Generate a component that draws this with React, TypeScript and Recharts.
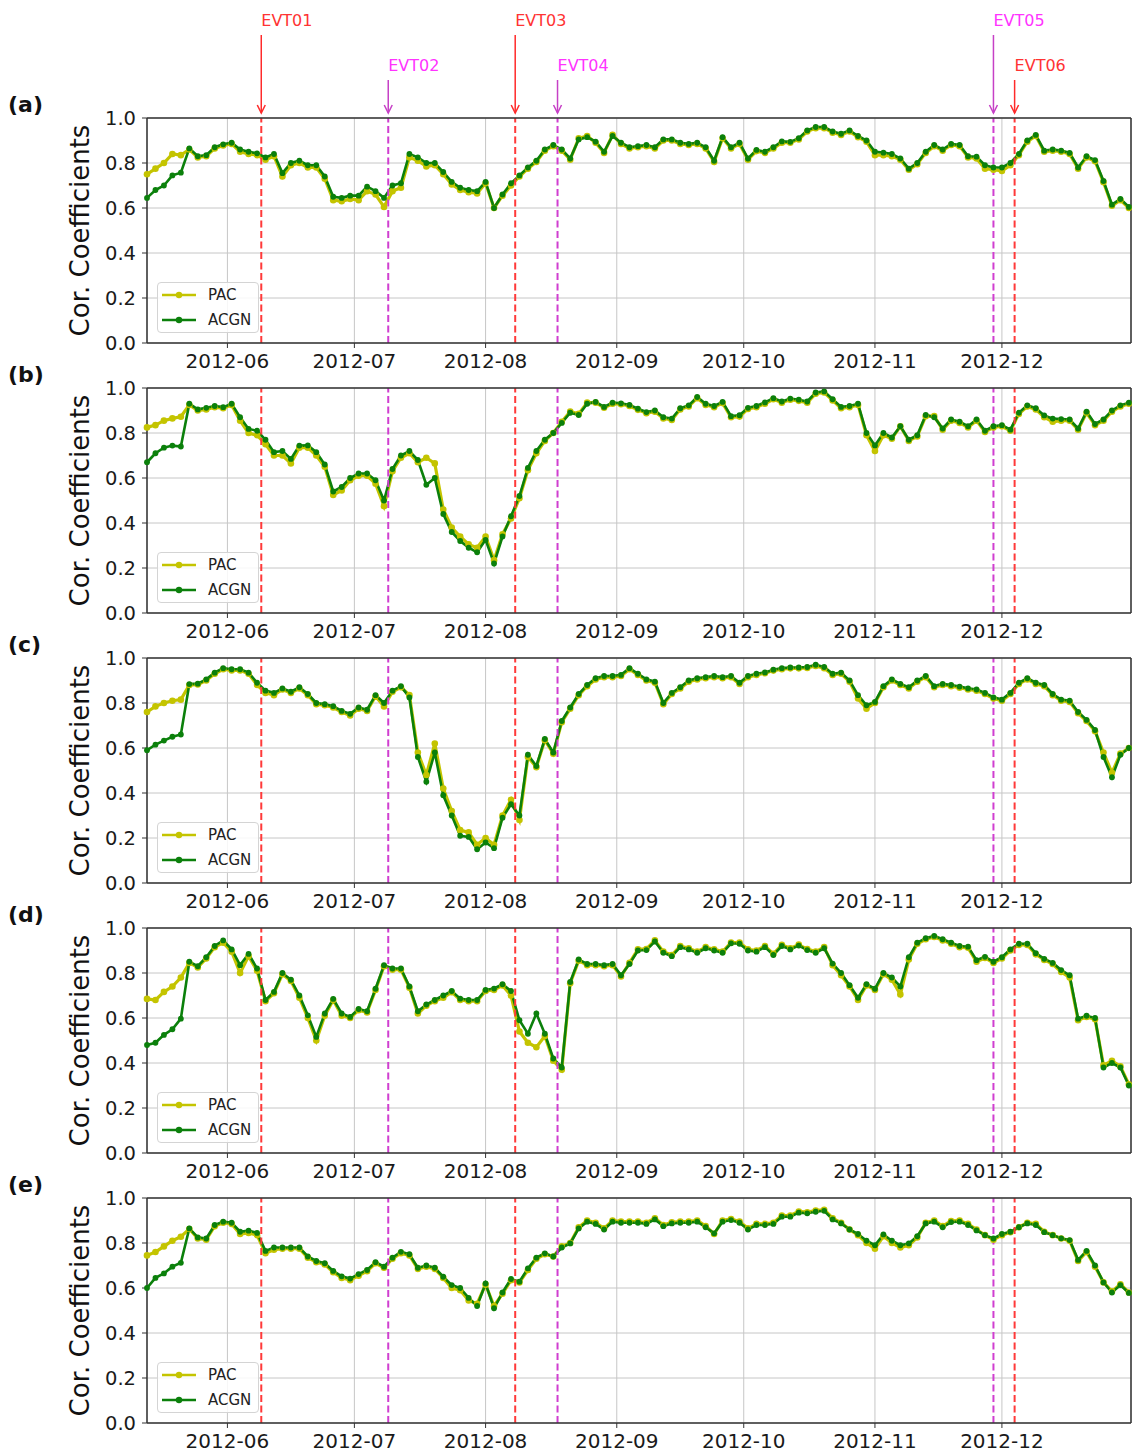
import { LineChart, Line, XAxis, YAxis, CartesianGrid, ReferenceLine, Legend, Label } from 'recharts'

const FONT = 'DejaVu Sans, sans-serif'
const PAC_COLOR = '#c4c400'
const ACGN_COLOR = '#0b800b'

// day offsets from 2012-05-13 (one sample every second day)
const days = [
  0, 2, 4, 6, 8, 10, 12, 14, 16, 18,
  20, 22, 24, 26, 28, 30, 32, 34, 36, 38,
  40, 42, 44, 46, 48, 50, 52, 54, 56, 58,
  60, 62, 64, 66, 68, 70, 72, 74, 76, 78,
  80, 82, 84, 86, 88, 90, 92, 94, 96, 98,
  100, 102, 104, 106, 108, 110, 112, 114, 116, 118,
  120, 122, 124, 126, 128, 130, 132, 134, 136, 138,
  140, 142, 144, 146, 148, 150, 152, 154, 156, 158,
  160, 162, 164, 166, 168, 170, 172, 174, 176, 178,
  180, 182, 184, 186, 188, 190, 192, 194, 196, 198,
  200, 202, 204, 206, 208, 210, 212, 214, 216, 218,
  220, 222, 224, 226, 228, 230, 232,
]

const monthTicks = [19, 49, 80, 111, 141, 172, 202]
const monthLabels = ['2012-06', '2012-07', '2012-08', '2012-09', '2012-10', '2012-11', '2012-12']
const yTicks = [0, 0.2, 0.4, 0.6, 0.8, 1.0]

const eventNames = ['EVT01', 'EVT02', 'EVT03', 'EVT04', 'EVT05', 'EVT06']
const eventDays = [27, 57, 87, 97, 200, 205]
const eventKinds = ['r', 'm', 'r', 'm', 'm', 'r']
const eventTall = [true, false, true, false, true, false]

const acgnA = [
  0.645, 0.68, 0.70, 0.745, 0.757, 0.865, 0.83, 0.835, 0.87, 0.883,
  0.89, 0.86, 0.85, 0.843, 0.825, 0.84, 0.755, 0.80, 0.81, 0.79,
  0.79, 0.74, 0.65, 0.645, 0.655, 0.655, 0.695, 0.675, 0.645, 0.70,
  0.71, 0.84, 0.825, 0.80, 0.80, 0.76, 0.716, 0.69, 0.68, 0.675,
  0.716, 0.60, 0.66, 0.71, 0.745, 0.78, 0.81, 0.86, 0.88, 0.86,
  0.82, 0.905, 0.915, 0.895, 0.85, 0.92, 0.89, 0.87, 0.875, 0.88,
  0.87, 0.905, 0.905, 0.89, 0.885, 0.89, 0.87, 0.81, 0.915, 0.87,
  0.89, 0.82, 0.858, 0.85, 0.87, 0.896, 0.894, 0.91, 0.945, 0.96,
  0.96, 0.94, 0.93, 0.945, 0.92, 0.90, 0.85, 0.846, 0.84, 0.82,
  0.775, 0.80, 0.85, 0.88, 0.86, 0.885, 0.88, 0.83, 0.828, 0.79,
  0.78, 0.78, 0.80, 0.84, 0.90, 0.925, 0.855, 0.86, 0.855, 0.845,
  0.78, 0.83, 0.813, 0.72, 0.615, 0.64, 0.605,
]
const pacA = [
  0.75, 0.775, 0.80, 0.84, 0.835, 0.86, 0.825, 0.83, 0.865, 0.878,
  0.885, 0.85, 0.84, 0.835, 0.815, 0.83, 0.74, 0.79, 0.80, 0.78,
  0.78, 0.73, 0.635, 0.63, 0.64, 0.635, 0.675, 0.66, 0.605, 0.675,
  0.69, 0.825, 0.81, 0.785, 0.79, 0.75, 0.705, 0.68, 0.67, 0.665,
  0.71, 0.60, 0.655, 0.70, 0.74, 0.775, 0.805, 0.855, 0.875, 0.855,
  0.815, 0.91, 0.92, 0.89, 0.845, 0.925, 0.885, 0.865, 0.87, 0.875,
  0.865, 0.90, 0.90, 0.885, 0.88, 0.885, 0.865, 0.805, 0.91, 0.865,
  0.885, 0.815, 0.853, 0.845, 0.865, 0.89, 0.89, 0.905, 0.94, 0.955,
  0.955, 0.935, 0.925, 0.94, 0.915, 0.895, 0.835, 0.835, 0.83, 0.815,
  0.77, 0.795, 0.845, 0.875, 0.855, 0.88, 0.875, 0.825, 0.82, 0.775,
  0.77, 0.765, 0.79, 0.835, 0.895, 0.92, 0.85, 0.855, 0.85, 0.84,
  0.775, 0.825, 0.808, 0.715, 0.61, 0.635, 0.60,
]

const acgnB = [
  0.67, 0.71, 0.735, 0.744, 0.74, 0.93, 0.905, 0.912, 0.92, 0.915,
  0.93, 0.87, 0.818, 0.81, 0.77, 0.715, 0.72, 0.685, 0.744, 0.745,
  0.715, 0.66, 0.54, 0.56, 0.60, 0.62, 0.62, 0.59, 0.50, 0.64,
  0.70, 0.72, 0.68, 0.57, 0.60, 0.44, 0.36, 0.32, 0.29, 0.27,
  0.325, 0.22, 0.34, 0.43, 0.52, 0.645, 0.72, 0.77, 0.80, 0.845,
  0.89, 0.88, 0.93, 0.938, 0.916, 0.935, 0.932, 0.925, 0.908, 0.893,
  0.90, 0.87, 0.864, 0.91, 0.923, 0.96, 0.93, 0.92, 0.938, 0.875,
  0.879, 0.912, 0.92, 0.936, 0.955, 0.94, 0.953, 0.948, 0.94, 0.98,
  0.985, 0.95, 0.916, 0.92, 0.93, 0.80, 0.745, 0.80, 0.78, 0.83,
  0.77, 0.79, 0.88, 0.87, 0.82, 0.86, 0.85, 0.83, 0.86, 0.81,
  0.83, 0.835, 0.815, 0.89, 0.923, 0.91, 0.878, 0.864, 0.862, 0.86,
  0.82, 0.895, 0.84, 0.86, 0.90, 0.923, 0.935,
]
const pacB = [
  0.825, 0.835, 0.855, 0.865, 0.872, 0.925, 0.90, 0.905, 0.915, 0.91,
  0.925, 0.855, 0.80, 0.79, 0.75, 0.70, 0.70, 0.665, 0.735, 0.735,
  0.70, 0.65, 0.525, 0.545, 0.59, 0.61, 0.61, 0.575, 0.475, 0.63,
  0.69, 0.71, 0.67, 0.69, 0.665, 0.46, 0.38, 0.34, 0.305, 0.29,
  0.34, 0.235, 0.35, 0.42, 0.51, 0.635, 0.71, 0.765, 0.80, 0.85,
  0.895, 0.885, 0.935, 0.935, 0.912, 0.93, 0.928, 0.92, 0.903, 0.888,
  0.895, 0.865, 0.858, 0.905, 0.918, 0.955, 0.925, 0.915, 0.933, 0.87,
  0.873, 0.907, 0.915, 0.93, 0.95, 0.935, 0.948, 0.943, 0.935, 0.975,
  0.98, 0.945, 0.91, 0.915, 0.925, 0.79, 0.72, 0.79, 0.775, 0.83,
  0.765, 0.785, 0.875, 0.875, 0.815, 0.855, 0.845, 0.825, 0.855, 0.805,
  0.825, 0.83, 0.81, 0.885, 0.918, 0.905, 0.87, 0.85, 0.855, 0.855,
  0.815, 0.89, 0.835, 0.855, 0.895, 0.918, 0.93,
]

const acgnC = [
  0.59, 0.615, 0.633, 0.65, 0.66, 0.884, 0.886, 0.905, 0.935, 0.955,
  0.95, 0.95, 0.935, 0.89, 0.855, 0.845, 0.865, 0.85, 0.87, 0.84,
  0.80, 0.795, 0.786, 0.765, 0.752, 0.78, 0.77, 0.835, 0.80, 0.855,
  0.875, 0.825, 0.56, 0.45, 0.58, 0.39, 0.30, 0.21, 0.205, 0.15,
  0.18, 0.155, 0.29, 0.35, 0.30, 0.57, 0.52, 0.64, 0.58, 0.72,
  0.78, 0.84, 0.88, 0.91, 0.92, 0.92, 0.925, 0.955, 0.93, 0.905,
  0.895, 0.80, 0.845, 0.87, 0.90, 0.91, 0.915, 0.92, 0.915, 0.92,
  0.89, 0.92, 0.93, 0.936, 0.948, 0.955, 0.958, 0.958, 0.96, 0.97,
  0.96, 0.93, 0.935, 0.90, 0.835, 0.79, 0.805, 0.875, 0.905, 0.885,
  0.87, 0.90, 0.92, 0.875, 0.885, 0.88, 0.873, 0.865, 0.86, 0.845,
  0.825, 0.815, 0.845, 0.89, 0.91, 0.89, 0.88, 0.84, 0.815, 0.81,
  0.76, 0.725, 0.68, 0.56, 0.47, 0.57, 0.60,
]
const pacC = [
  0.76, 0.785, 0.80, 0.81, 0.815, 0.88, 0.882, 0.90, 0.93, 0.95,
  0.945, 0.945, 0.93, 0.88, 0.845, 0.835, 0.86, 0.845, 0.865, 0.835,
  0.795, 0.79, 0.78, 0.76, 0.745, 0.775, 0.765, 0.83, 0.785, 0.85,
  0.87, 0.835, 0.58, 0.48, 0.62, 0.42, 0.32, 0.235, 0.225, 0.17,
  0.20, 0.17, 0.30, 0.37, 0.28, 0.56, 0.515, 0.635, 0.575, 0.715,
  0.775, 0.835, 0.875, 0.905, 0.915, 0.915, 0.92, 0.95, 0.925, 0.90,
  0.89, 0.795, 0.84, 0.865, 0.895, 0.905, 0.91, 0.915, 0.91, 0.915,
  0.885, 0.915, 0.925, 0.932, 0.944, 0.95, 0.954, 0.954, 0.956, 0.965,
  0.955, 0.925, 0.93, 0.895, 0.82, 0.775, 0.80, 0.87, 0.90, 0.88,
  0.865, 0.895, 0.915, 0.87, 0.88, 0.875, 0.868, 0.86, 0.855, 0.84,
  0.82, 0.81, 0.84, 0.885, 0.905, 0.885, 0.875, 0.835, 0.81, 0.805,
  0.755, 0.72, 0.675, 0.58, 0.49, 0.575, 0.60,
]

const acgnD = [
  0.48, 0.49, 0.525, 0.55, 0.597, 0.85, 0.83, 0.87, 0.92, 0.945,
  0.905, 0.835, 0.885, 0.82, 0.68, 0.716, 0.80, 0.77, 0.70, 0.612,
  0.516, 0.62, 0.685, 0.62, 0.605, 0.64, 0.63, 0.73, 0.835, 0.82,
  0.82, 0.74, 0.63, 0.66, 0.68, 0.70, 0.72, 0.686, 0.68, 0.68,
  0.725, 0.731, 0.75, 0.72, 0.59, 0.53, 0.62, 0.53, 0.42, 0.38,
  0.76, 0.86, 0.84, 0.84, 0.835, 0.84, 0.79, 0.84, 0.90, 0.902,
  0.94, 0.89, 0.875, 0.915, 0.905, 0.89, 0.91, 0.90, 0.89, 0.932,
  0.93, 0.90, 0.895, 0.915, 0.88, 0.92, 0.905, 0.922, 0.902, 0.89,
  0.91, 0.842, 0.80, 0.746, 0.69, 0.75, 0.73, 0.80, 0.78, 0.74,
  0.87, 0.935, 0.955, 0.965, 0.95, 0.935, 0.92, 0.917, 0.857, 0.872,
  0.85, 0.87, 0.905, 0.93, 0.93, 0.888, 0.863, 0.845, 0.813, 0.79,
  0.597, 0.61, 0.60, 0.38, 0.40, 0.38, 0.30,
]
const pacD = [
  0.685, 0.68, 0.716, 0.74, 0.78, 0.845, 0.825, 0.865, 0.915, 0.935,
  0.895, 0.80, 0.875, 0.81, 0.675, 0.71, 0.795, 0.765, 0.69, 0.60,
  0.50, 0.61, 0.68, 0.61, 0.60, 0.635, 0.625, 0.725, 0.83, 0.815,
  0.815, 0.735, 0.62, 0.655, 0.675, 0.69, 0.715, 0.68, 0.675, 0.675,
  0.72, 0.725, 0.745, 0.70, 0.54, 0.49, 0.47, 0.52, 0.41, 0.37,
  0.755, 0.855, 0.835, 0.835, 0.83, 0.835, 0.785, 0.845, 0.905, 0.907,
  0.945, 0.895, 0.88, 0.92, 0.91, 0.895, 0.915, 0.905, 0.895, 0.935,
  0.935, 0.905, 0.90, 0.92, 0.885, 0.925, 0.91, 0.926, 0.906, 0.895,
  0.915, 0.835, 0.79, 0.74, 0.68, 0.745, 0.725, 0.795, 0.77, 0.705,
  0.86, 0.93, 0.95, 0.96, 0.945, 0.93, 0.915, 0.912, 0.85, 0.867,
  0.845, 0.865, 0.90, 0.925, 0.925, 0.883, 0.858, 0.84, 0.805, 0.78,
  0.59, 0.605, 0.595, 0.39, 0.41, 0.385, 0.305,
]

const acgnE = [
  0.60, 0.645, 0.665, 0.695, 0.712, 0.865, 0.825, 0.82, 0.88, 0.895,
  0.89, 0.85, 0.855, 0.845, 0.765, 0.78, 0.78, 0.78, 0.78, 0.74,
  0.72, 0.71, 0.676, 0.652, 0.642, 0.662, 0.68, 0.715, 0.695, 0.735,
  0.761, 0.75, 0.69, 0.70, 0.69, 0.65, 0.613, 0.60, 0.556, 0.52,
  0.62, 0.51, 0.58, 0.64, 0.628, 0.687, 0.735, 0.754, 0.74, 0.78,
  0.798, 0.865, 0.895, 0.885, 0.86, 0.895, 0.89, 0.89, 0.89, 0.885,
  0.905, 0.875, 0.887, 0.89, 0.89, 0.895, 0.87, 0.843, 0.895, 0.902,
  0.89, 0.86, 0.88, 0.88, 0.885, 0.917, 0.917, 0.935, 0.932, 0.939,
  0.943, 0.905, 0.887, 0.86, 0.84, 0.81, 0.79, 0.838, 0.81, 0.79,
  0.798, 0.83, 0.887, 0.895, 0.87, 0.893, 0.895, 0.88, 0.856, 0.835,
  0.82, 0.84, 0.85, 0.87, 0.887, 0.88, 0.848, 0.835, 0.821, 0.813,
  0.725, 0.765, 0.70, 0.625, 0.58, 0.613, 0.578,
]
const pacE = [
  0.745, 0.76, 0.785, 0.81, 0.828, 0.862, 0.82, 0.815, 0.875, 0.89,
  0.885, 0.84, 0.845, 0.835, 0.755, 0.77, 0.775, 0.775, 0.775, 0.735,
  0.715, 0.705, 0.67, 0.645, 0.635, 0.655, 0.675, 0.71, 0.69, 0.73,
  0.755, 0.745, 0.685, 0.695, 0.685, 0.645, 0.60, 0.59, 0.545, 0.53,
  0.615, 0.52, 0.575, 0.635, 0.625, 0.68, 0.73, 0.75, 0.74, 0.785,
  0.80, 0.87, 0.90, 0.89, 0.865, 0.90, 0.895, 0.895, 0.895, 0.89,
  0.91, 0.88, 0.892, 0.895, 0.895, 0.90, 0.875, 0.84, 0.90, 0.907,
  0.895, 0.865, 0.885, 0.885, 0.89, 0.922, 0.922, 0.94, 0.937, 0.944,
  0.948, 0.91, 0.89, 0.86, 0.835, 0.80, 0.775, 0.83, 0.80, 0.78,
  0.79, 0.825, 0.89, 0.90, 0.875, 0.898, 0.90, 0.885, 0.86, 0.835,
  0.815, 0.835, 0.848, 0.87, 0.89, 0.885, 0.85, 0.835, 0.82, 0.81,
  0.72, 0.76, 0.695, 0.625, 0.585, 0.617, 0.58,
]

const EVT_STYLE = {
  r: { line: '#ff3a3a', arrow: '#ff2a2a', text: '#ff3333' },
  m: { line: '#d03ed0', arrow: '#c640c6', text: '#ff33ff' },
}

const panels = [
  { tag: '(a)', pac: pacA, acgn: acgnA, plotTop: 118 },
  { tag: '(b)', pac: pacB, acgn: acgnB, plotTop: 388 },
  { tag: '(c)', pac: pacC, acgn: acgnC, plotTop: 658 },
  { tag: '(d)', pac: pacD, acgn: acgnD, plotTop: 928 },
  { tag: '(e)', pac: pacE, acgn: acgnE, plotTop: 1198 },
]

const PLOT_H = 225
const AXIS_H = 35

function EventMarker({ viewBox, idx }: any) {
  if (!viewBox) return null
  const s = EVT_STYLE[eventKinds[idx]]
  const x = viewBox.x
  const tip = viewBox.y - 5
  const start = eventTall[idx] ? viewBox.y - 83 : viewBox.y - 38
  return (
    <g>
      <line x1={x} y1={start} x2={x} y2={tip} stroke={s.arrow} strokeWidth={1.5} />
      <path d={`M${x - 4},${tip - 8} L${x},${tip} L${x + 4},${tip - 8}`} fill="none" stroke={s.arrow} strokeWidth={1.5} />
      <text x={x} y={start - 9} fill={s.text} fontSize={16} fontFamily={FONT}>
        {eventNames[idx]}
      </text>
    </g>
  )
}

function LegendBox() {
  const rows = [
    { name: 'PAC', color: PAC_COLOR },
    { name: 'ACGN', color: ACGN_COLOR },
  ]
  return (
    <div
      style={{
        width: 100,
        height: 49,
        border: '1px solid #d4d4d4',
        borderRadius: 4,
        background: 'rgba(255,255,255,0.85)',
        fontFamily: FONT,
        fontSize: 15,
        color: '#222',
      }}
    >
      {rows.map((r) => (
        <div key={r.name} style={{ display: 'flex', alignItems: 'center', height: 24.5 }}>
          <svg width={50} height={10}>
            <line x1={4} x2={38} y1={5} y2={5} stroke={r.color} strokeWidth={2.5} />
            <circle cx={21} cy={5} r={3.2} fill={r.color} />
          </svg>
          <span>{r.name}</span>
        </div>
      ))}
    </div>
  )
}

function Panel({ tag, pac, acgn, plotTop, withEvents }: any) {
  const mTop = withEvents ? 118 : 30
  const data = days.map((t, i) => ({ t, pac: pac[i], acgn: acgn[i] }))

  return (
    <div style={{ position: 'absolute', left: 0, top: plotTop - mTop }}>
      <LineChart
        width={1132}
        height={mTop + PLOT_H + AXIS_H}
        data={data}
        margin={{ top: mTop, right: 1, bottom: 0, left: 0 }}
      >
        <CartesianGrid stroke="#c6c6c6" strokeWidth={1} />
        <XAxis
          dataKey="t"
          type="number"
          domain={[0, 232.5]}
          ticks={monthTicks}
          interval={0}
          tickFormatter={(v: number) => monthLabels[monthTicks.indexOf(v)]}
          height={AXIS_H}
          tickSize={5}
          tickMargin={6}
          tick={{ fontSize: 20, fill: '#1a1a1a', fontFamily: FONT }}
          axisLine={{ stroke: '#333', strokeWidth: 1.5 }}
          tickLine={{ stroke: '#333' }}
        />
        <YAxis
          type="number"
          domain={[0, 1]}
          ticks={yTicks}
          interval={0}
          width={147}
          tickFormatter={(v: number) => v.toFixed(1)}
          tickSize={5}
          tickMargin={6}
          tick={{ fontSize: 19.5, fill: '#1a1a1a', fontFamily: FONT }}
          axisLine={{ stroke: '#333', strokeWidth: 1.5 }}
          tickLine={{ stroke: '#333' }}
        >
          <Label
            content={({ viewBox }: any) => (
              <g>
                <text
                  transform={`translate(80,${viewBox.y + viewBox.height / 2}) rotate(-90)`}
                  textAnchor="middle"
                  dominantBaseline="central"
                  fontSize={26}
                  fontFamily={FONT}
                  fill="#111"
                >
                  Cor. Coefficients
                </text>
                <text x={8} y={viewBox.y - 6} fontSize={22} fontWeight="bold" fontFamily={FONT} fill="#111">
                  {tag}
                </text>
              </g>
            )}
          />
        </YAxis>
        <Line
          type="linear"
          dataKey="pac"
          name="PAC"
          stroke={PAC_COLOR}
          strokeWidth={3.2}
          dot={{ r: 3.3, fill: PAC_COLOR, stroke: 'none' }}
          activeDot={false}
          isAnimationActive={false}
        />
        <Line
          type="linear"
          dataKey="acgn"
          name="ACGN"
          stroke={ACGN_COLOR}
          strokeWidth={2.6}
          dot={{ r: 2.9, fill: ACGN_COLOR, stroke: 'none' }}
          activeDot={false}
          isAnimationActive={false}
        />
        {eventDays.map((d, i) => (
          <ReferenceLine
            key={eventNames[i]}
            x={d}
            stroke={EVT_STYLE[eventKinds[i]].line}
            strokeWidth={2}
            strokeDasharray="7 3.5"
            label={withEvents ? (p: any) => <EventMarker viewBox={p.viewBox} idx={i} /> : undefined}
          />
        ))}
        <ReferenceLine y={1} stroke="#333" strokeWidth={1.5} />
        <ReferenceLine x={232.5} stroke="#333" strokeWidth={1.5} />
        <Legend
          layout="horizontal"
          verticalAlign="middle"
          align="center"
          wrapperStyle={{ left: 157, top: mTop + PLOT_H - 61, width: 102, height: 51 }}
          content={() => <LegendBox />}
        />
      </LineChart>
    </div>
  )
}

export default function App() {
  return (
    <div style={{ position: 'relative', width: 1132, height: 1455, overflow: 'hidden', background: '#fff' }}>
      <style>{'body { margin: 0; }'}</style>
      {panels.map((p, i) => (
        <Panel key={p.tag} tag={p.tag} pac={p.pac} acgn={p.acgn} plotTop={p.plotTop} withEvents={i === 0} />
      ))}
    </div>
  )
}
